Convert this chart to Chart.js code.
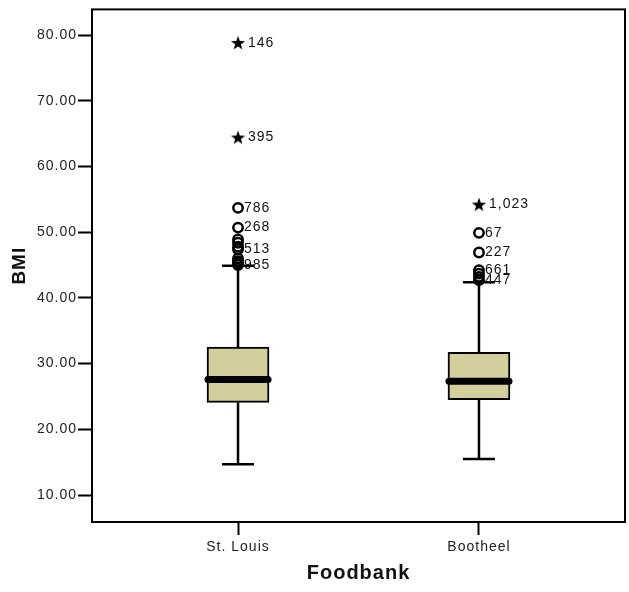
<!DOCTYPE html>
<html>
<head>
<meta charset="utf-8">
<script src="https://cdn.jsdelivr.net/npm/chart.js@4.4.0/dist/chart.umd.min.js"></script>
<style>
html,body{margin:0;padding:0;background:#fff}
</style>
</head>
<body>
<canvas id="c" width="629" height="592"></canvas>
<script>
// BOX PLOT DATA (BMI by foodbank)

const categories = ["St. Louis", "Bootheel"];
const lowWhisker = [14.7, 15.5];
const q1 = [24.1, 24.5];
const median = [27.6, 27.3];
const q3 = [32.5, 31.7];
const highWhisker = [44.9, 42.4];

// outliers (circles) and extremes (stars), with SPSS case labels
const stlCircles = [53.7, 50.7, 48.9, 48.4, 47.8, 47.4, 46.0, 45.6, 45.3, 45.0];
const stlCircleLabels = ["786", "268", "", "", "", "513", "", "", "", "985"];
const stlStars = [78.8, 64.4];
const stlStarLabels = ["146", "395"];
const bhCircles = [49.9, 46.9, 44.2, 43.7, 43.2, 42.7];
const bhCircleLabels = ["67", "227", "661", "", "", "447"];
const bhStars = [54.2];
const bhStarLabels = ["1,023"];

const yTicks = [10, 20, 30, 40, 50, 60, 70, 80];

// filled star marker
const star = document.createElement("canvas");
star.width = 16; star.height = 16;
const sc = star.getContext("2d");
sc.beginPath();
for (let k = 0; k < 10; k++) {
  const r = k % 2 ? 3 : 7.5;
  const a = -Math.PI / 2 + k * Math.PI / 5;
  sc.lineTo(8 + r * Math.cos(a), 8.5 + r * Math.sin(a));
}
sc.closePath();
sc.fillStyle = "#000";
sc.fill();

function pts(group, vals) {
  return vals.map(v => ({x: group, y: v}));
}

const boxPlugin = {
  id: "boxParts",
  beforeDraw(chart) {
    // SPSS output text is a little spaced out
    chart.ctx.letterSpacing = "1px";
  },
  beforeDatasetsDraw(chart) {
    const ctx = chart.ctx, x = chart.scales.x, y = chart.scales.y;
    ctx.save();
    ctx.strokeStyle = "#000";
    ctx.lineWidth = 2.5;
    categories.forEach((c, i) => {
      const px = x.getPixelForValue(i + 1);
      ctx.beginPath();
      ctx.moveTo(px, y.getPixelForValue(lowWhisker[i]));
      ctx.lineTo(px, y.getPixelForValue(q1[i]));
      ctx.moveTo(px, y.getPixelForValue(q3[i]));
      ctx.lineTo(px, y.getPixelForValue(highWhisker[i]));
      ctx.moveTo(px - 16, y.getPixelForValue(lowWhisker[i]));
      ctx.lineTo(px + 16, y.getPixelForValue(lowWhisker[i]));
      ctx.moveTo(px - 16, y.getPixelForValue(highWhisker[i]));
      ctx.lineTo(px + 16, y.getPixelForValue(highWhisker[i]));
      ctx.stroke();
    });
    ctx.restore();
  },
  afterDatasetsDraw(chart) {
    const ctx = chart.ctx, x = chart.scales.x, y = chart.scales.y;
    ctx.save();
    // medians
    ctx.strokeStyle = "#000";
    ctx.lineWidth = 7;
    ctx.lineCap = "round";
    categories.forEach((c, i) => {
      const px = x.getPixelForValue(i + 1);
      const py = y.getPixelForValue(median[i]);
      ctx.beginPath();
      ctx.moveTo(px - 30, py);
      ctx.lineTo(px + 30, py);
      ctx.stroke();
    });
    // case labels
    ctx.fillStyle = "#111";
    ctx.font = "14px 'Liberation Sans', Arial, sans-serif";
    ctx.textBaseline = "middle";
    chart.data.datasets.forEach((d, di) => {
      if (!d.caseLabels) return;
      chart.getDatasetMeta(di).data.forEach((p, j) => {
        if (d.caseLabels[j]) ctx.fillText(d.caseLabels[j], p.x + d.labelGap, p.y);
      });
    });
    // frame
    const a = chart.chartArea;
    ctx.lineWidth = 2;
    ctx.lineCap = "butt";
    ctx.strokeRect(a.left, a.top, a.right - a.left, a.bottom - a.top);
    ctx.restore();
  }
};

new Chart(document.getElementById("c"), {
  type: "bar",
  data: {
    datasets: [
      {
        type: "bar",
        data: categories.map((c, i) => ({x: i + 1, y: [q1[i], q3[i]]})),
        backgroundColor: "#d3cf9c",
        borderColor: "#000",
        borderWidth: 2,
        borderSkipped: false,
        barThickness: 62,
        order: 3
      },
      {
        type: "scatter",
        data: pts(1, stlCircles).concat(pts(2, bhCircles)),
        caseLabels: stlCircleLabels.concat(bhCircleLabels),
        labelGap: 6,
        pointStyle: "circle",
        pointRadius: 4.7,
        borderWidth: 2.5,
        borderColor: "#000",
        backgroundColor: "rgba(0,0,0,0)",
        order: 1
      },
      {
        type: "scatter",
        data: pts(1, stlStars).concat(pts(2, bhStars)),
        caseLabels: stlStarLabels.concat(bhStarLabels),
        labelGap: 10,
        pointStyle: star,
        order: 1
      }
    ]
  },
  options: {
    responsive: false,
    animation: false,
    devicePixelRatio: 1,
    layout: {autoPadding: false, padding: {top: 7, right: 4, left: 0, bottom: 0}},
    plugins: {legend: {display: false}, tooltip: {enabled: false}},
    scales: {
      x: {
        type: "linear",
        offset: false,
        min: 0.394,
        max: 2.606,
        afterBuildTicks: s => { s.ticks = [{value: 1}, {value: 2}]; },
        afterFit: s => { s.height = 70; s.paddingLeft = 0; s.paddingRight = 0; },
        ticks: {
          callback: v => categories[v - 1],
          color: "#222",
          font: {family: "'Liberation Sans', Arial", size: 14},
          padding: 4,
          maxRotation: 0
        },
        grid: {offset: false, drawOnChartArea: false, tickLength: 13, tickColor: "#000", tickWidth: 2},
        border: {display: false},
        title: {
          display: true,
          text: "Foodbank",
          color: "#111",
          font: {family: "'Liberation Sans', Arial", size: 20, weight: "bold"},
          padding: {top: 0, bottom: 7}
        }
      },
      y: {
        min: 5.9,
        max: 83.9,
        afterBuildTicks: s => { s.ticks = yTicks.map(v => ({value: v})); },
        afterFit: s => { s.width = 92; },
        ticks: {
          callback: v => v.toFixed(2),
          color: "#222",
          font: {family: "'Liberation Sans', Arial", size: 14},
          padding: 1
        },
        grid: {drawOnChartArea: false, tickLength: 14, tickColor: "#000", tickWidth: 2},
        border: {display: false},
        title: {
          display: true,
          text: "BMI",
          color: "#111",
          font: {family: "'Liberation Sans', Arial", size: 19, weight: "bold"},
          padding: {top: 8, bottom: 0}
        }
      }
    }
  },
  plugins: [boxPlugin]
});
</script>
</body>
</html>
